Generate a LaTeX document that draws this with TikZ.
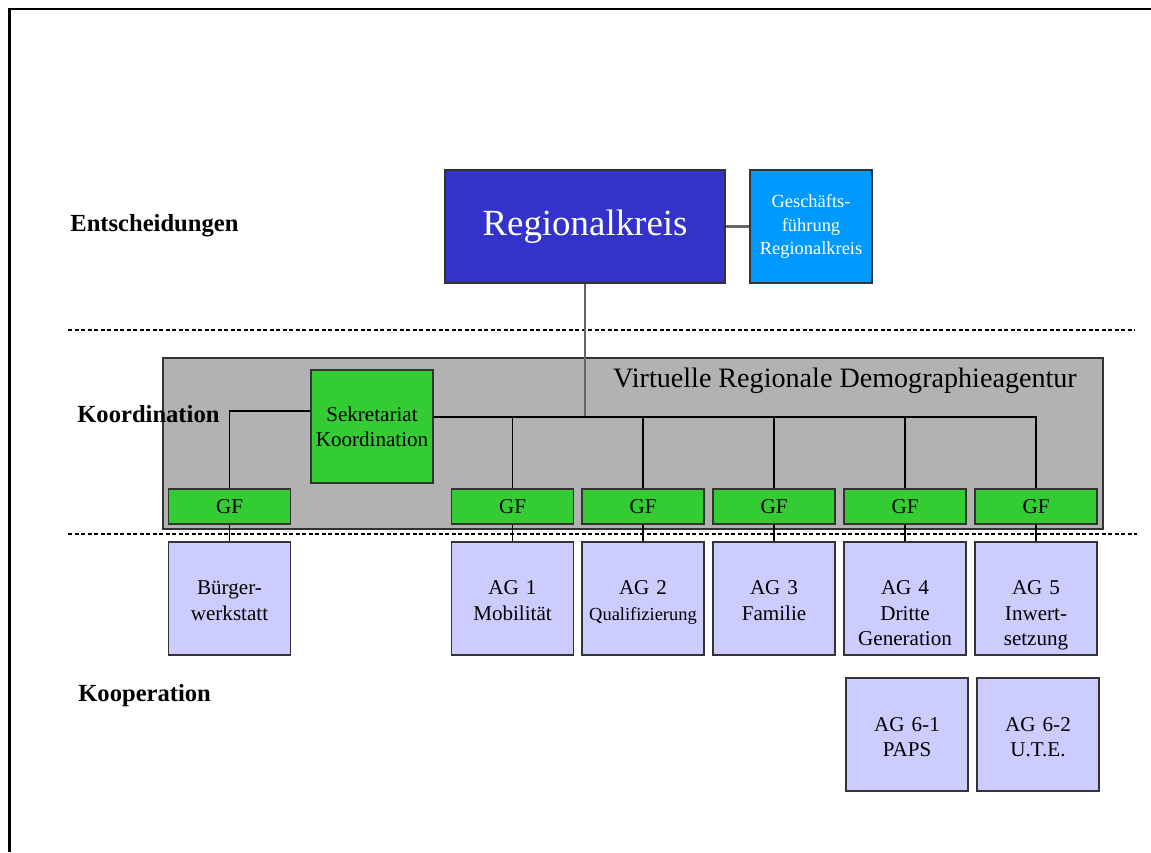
\documentclass[tikz,border=0pt]{standalone}
\usepackage{fontspec}
\setmainfont{Liberation Serif}
\usepackage{xcolor}
\usepackage{tikz}
\definecolor{rkblue}{HTML}{3333CC}
\definecolor{gfblue}{HTML}{0099FF}
\definecolor{agentgray}{HTML}{B2B2B2}
\definecolor{gfgreen}{HTML}{33CC33}
\definecolor{aglila}{HTML}{CCCCFF}
\definecolor{linegray}{HTML}{666666}

\begin{document}
\begin{tikzpicture}[x=0.02cm, y=-0.02cm,
    box/.style={draw=black!80, line width=0.8pt, minimum width=2.44cm, minimum height=2.26cm, inner sep=0pt, align=center},
    gf/.style={box, fill=gfgreen, minimum height=0.7cm, font=\fontsize{12}{14}\selectfont},
    ag/.style={box, fill=aglila, text width=2.4cm, text height=10pt, text depth=14pt, font=\fontsize{12}{14.3}\selectfont},
    level/.style={anchor=west, inner sep=0pt, font=\fontsize{14}{16}\selectfont\bfseries},
    conn/.style={line width=0.6pt},
    sep/.style={line width=0.6pt, dash pattern=on 2.4pt off 1.3pt}]
    \useasboundingbox (0,0) rectangle (1151,852);
    \draw[line width=1.4pt] (9.5,852) -- (9.5,9) -- (1151,9);
    \draw[sep] (68,330) -- (1135,330);
    \draw[sep] (68,534) -- (1137,534);

    \node[box, fill=rkblue, minimum width=5.6cm, text=white, font=\fontsize{21}{25}\selectfont] (rk) at (585,226.5) {Regionalkreis};
    \node[box, fill=gfblue, text=white, font=\fontsize{10.5}{13.3}\selectfont] (gfrk) at (811,226.5) {Geschäfts-\\führung\\Regionalkreis};

    \node[draw=black!80, line width=0.8pt, fill=agentgray, minimum width=18.8cm, minimum height=3.42cm] (vrda) at (633,443.5) {};
    \node[font=\fontsize{16}{19}\selectfont] (vrdatitle) at (845,381) {Virtuelle Regionale Demographieagentur};
    \node[box, fill=gfgreen, font=\fontsize{12}{14.2}\selectfont] (sek) at (372,426.5) {Sekretariat\\Koordination};
    \coordinate (bus) at ([yshift=0.19cm]sek.east);

    \node[gf] (gf1) at (229.5,506.5) {GF};
    \node[gf] (gf2) at (512.5,506.5) {GF};
    \node[gf] (gf3) at (643,506.5) {GF};
    \node[gf] (gf4) at (774,506.5) {GF};
    \node[gf] (gf5) at (905,506.5) {GF};
    \node[gf] (gf6) at (1036,506.5) {GF};

    \node[ag] (buerger) at (229.5,598.5) {Bürger-\\werkstatt};
    \node[ag] (ag1) at (512.5,598.5) {AG 1\\Mobilität};
    \node[ag] (ag2) at (643,598.5) {AG 2\\{\fontsize{10.5}{12}\selectfont Qualifizierung}};
    \node[ag] (ag3) at (774,598.5) {AG 3\\Familie};
    \node[ag] (ag4) at (905,598.5) {AG 4\\Dritte\\Generation};
    \node[ag] (ag5) at (1036,598.5) {AG 5\\Inwert-\\setzung};
    \node[ag] (ag61) at (907,734.5) {AG 6-1\\PAPS};
    \node[ag] (ag62) at (1038,734.5) {AG 6-2\\U.T.E.};

    \draw[linegray, line width=1.2pt] (rk) -- (gfrk);
    \draw[linegray, line width=1.2pt] (rk.south) -- (rk.south |- bus);
    \draw[conn] ([yshift=0.31cm]sek.west) -| (gf1.north);
    \draw[conn] (bus) -| (gf6.north);
    \draw[conn] (gf2.north) -- (gf2.north |- bus);
    \draw[conn] (gf3.north) -- (gf3.north |- bus);
    \draw[conn] (gf4.north) -- (gf4.north |- bus);
    \draw[conn] (gf5.north) -- (gf5.north |- bus);
    \draw[conn] (gf1.south) -- (buerger.north);
    \draw[conn] (gf2.south) -- (ag1.north);
    \draw[conn] (gf3.south) -- (ag2.north);
    \draw[conn] (gf4.south) -- (ag3.north);
    \draw[conn] (gf5.south) -- (ag4.north);
    \draw[conn] (gf6.south) -- (ag5.north);

    \node[level] (entsch) at (70,226) {Entscheidungen};
    \node[level] (koord) at (77,414) {Koordination};
    \node[level] (koop) at (78,696) {Kooperation};
  \end{tikzpicture}
\end{document}
